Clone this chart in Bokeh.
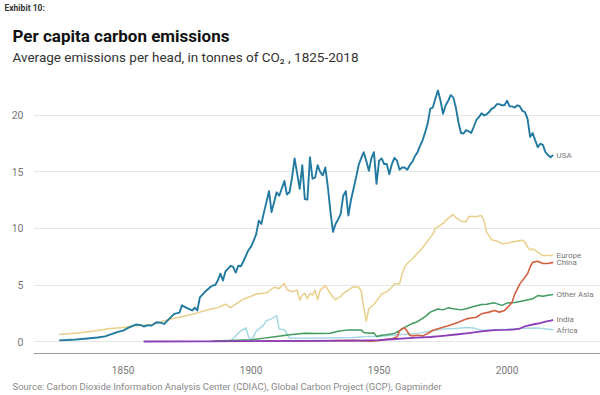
from bokeh.plotting import figure
from bokeh.layouts import column
from bokeh.models import Range1d, FixedTicker, ColumnDataSource, Title
from bokeh.embed import file_html
from bokeh.resources import INLINE
from bokeh.core.properties import value

FONT = "Roboto"

# ---------------- data (tonnes CO2 per head) ----------------
usa_year = [1825, 1830, 1835, 1840, 1843, 1846, 1848, 1850, 1852, 1854, 1855, 1857, 1858, 1860, 1861,
            1863, 1865, 1866, 1868, 1870, 1872, 1873, 1875, 1877, 1878, 1879, 1880, 1882, 1883, 1884,
            1885, 1886, 1887, 1888, 1889, 1890, 1892, 1893, 1894, 1895, 1896, 1897, 1899, 1900, 1901,
            1902, 1903, 1904, 1905, 1907, 1908, 1910, 1911, 1913, 1914, 1915, 1916, 1917, 1919, 1920,
            1921, 1922, 1923, 1924, 1925, 1926, 1927, 1928, 1929, 1930, 1931, 1932, 1933, 1934, 1935,
            1936, 1937, 1938, 1939, 1940, 1941, 1942, 1943, 1944, 1945, 1946, 1947, 1948, 1949, 1950,
            1951, 1952, 1953, 1954, 1955, 1956, 1957, 1958, 1959, 1960, 1961, 1962, 1963, 1964, 1965,
            1966, 1967, 1968, 1969, 1970, 1971, 1972, 1973, 1974, 1975, 1976, 1977, 1978, 1979, 1980,
            1981, 1982, 1983, 1984, 1985, 1986, 1987, 1988, 1989, 1990, 1991, 1992, 1993, 1994, 1995,
            1996, 1997, 1998, 1999, 2000, 2001, 2002, 2003, 2004, 2005, 2006, 2007, 2008, 2009, 2010,
            2011, 2012, 2013, 2014, 2015, 2016, 2017, 2018]
usa_val = [0.10, 0.15, 0.25, 0.35, 0.45, 0.70, 0.85, 0.97, 1.20, 1.40, 1.50, 1.45, 1.33, 1.45, 1.40,
           1.70, 1.65, 1.55, 2.00, 2.45, 2.55, 3.20, 2.95, 2.75, 3.00, 2.75, 3.90, 4.40, 4.60, 4.80,
           4.95, 5.00, 5.40, 6.00, 5.40, 6.20, 6.70, 6.60, 6.10, 6.70, 6.65, 7.10, 8.10, 8.40, 8.90,
           9.50, 10.70, 10.40, 11.40, 13.30, 11.45, 13.20, 12.90, 14.20, 13.00, 13.20, 14.50, 16.20, 13.50, 15.60,
           12.60, 12.55, 16.30, 14.40, 14.50, 15.60, 15.00, 14.70, 15.40, 13.65, 11.50, 9.70, 10.40, 10.80, 11.30,
           12.90, 13.30, 11.15, 12.50, 13.50, 14.50, 15.60, 16.20, 16.75, 16.00, 15.10, 16.20, 16.75, 13.95, 16.00,
           16.20, 15.70, 15.70, 14.80, 15.70, 16.25, 16.00, 15.20, 15.40, 15.40, 15.20, 15.60, 15.90, 16.40, 16.75,
           17.30, 17.80, 18.50, 19.30, 20.60, 20.70, 21.50, 22.20, 21.30, 20.15, 20.90, 21.30, 21.80, 21.60, 20.70,
           19.40, 18.45, 18.40, 18.70, 18.60, 18.45, 19.00, 19.60, 19.85, 20.20, 20.00, 20.10, 20.30, 20.60, 20.70,
           21.00, 21.00, 20.90, 20.90, 21.30, 20.80, 20.80, 20.70, 20.90, 20.80, 20.40, 20.30, 19.70, 18.10, 18.45,
           17.80, 17.20, 17.50, 17.40, 16.75, 16.50, 16.30, 16.50]

europe_year = [1825, 1830, 1835, 1840, 1845, 1850, 1854, 1858, 1862, 1866, 1870, 1872, 1875, 1878, 1880,
               1884, 1887, 1890, 1892, 1894, 1897, 1900, 1902, 1906, 1909, 1911, 1913, 1914, 1916, 1918,
               1919, 1920, 1921, 1922, 1923, 1924, 1925, 1926, 1927, 1929, 1931, 1932, 1933, 1935, 1936,
               1938, 1940, 1942, 1943, 1944, 1945, 1946, 1948, 1949, 1951, 1953, 1955, 1956, 1957, 1958,
               1959, 1960, 1961, 1963, 1965, 1967, 1969, 1971, 1972, 1974, 1975, 1976, 1977, 1979, 1980,
               1982, 1984, 1985, 1987, 1988, 1990, 1991, 1992, 1994, 1996, 1998, 2000, 2002, 2004, 2006,
               2007, 2008, 2009, 2010, 2012, 2014, 2016, 2018]
europe_val = [0.62, 0.72, 0.83, 0.98, 1.15, 1.25, 1.40, 1.45, 1.50, 1.85, 2.05, 2.15, 2.30, 2.45, 2.60,
              2.85, 3.00, 3.30, 3.00, 3.30, 3.75, 4.00, 4.20, 4.30, 4.80, 4.70, 5.15, 4.60, 4.40, 4.55,
              3.65, 4.10, 4.25, 3.80, 4.25, 4.10, 4.55, 3.70, 4.55, 4.95, 4.25, 3.90, 3.70, 4.00, 4.25,
              4.55, 4.85, 4.80, 4.50, 3.00, 1.80, 2.90, 3.30, 3.60, 4.20, 4.40, 4.80, 5.10, 5.10, 5.10,
              6.00, 6.60, 6.90, 7.30, 7.80, 8.30, 8.90, 9.50, 10.00, 10.30, 10.45, 10.70, 10.90, 11.25, 10.95,
              10.65, 10.60, 11.05, 11.05, 11.05, 11.15, 10.70, 9.70, 9.00, 8.90, 8.65, 8.70, 8.80, 8.90, 8.95,
              8.80, 8.35, 8.10, 8.20, 7.90, 7.60, 7.60, 7.60]

china_year = [1902, 1920, 1930, 1940, 1944, 1947, 1950, 1953, 1955, 1957, 1958, 1959, 1960, 1961, 1962,
              1963, 1965, 1967, 1969, 1971, 1974, 1977, 1979, 1981, 1984, 1988, 1990, 1993, 1995, 1997,
              1999, 2001, 2002, 2003, 2005, 2008, 2009, 2010, 2012, 2014, 2016, 2018]
china_val = [0.02, 0.05, 0.07, 0.10, 0.05, 0.03, 0.10, 0.20, 0.25, 0.40, 0.95, 1.15, 1.20, 0.90, 0.55,
             0.50, 0.55, 0.50, 0.70, 1.00, 1.20, 1.40, 1.55, 1.70, 2.00, 2.15, 2.45, 2.60, 2.75, 2.60,
             2.75, 3.20, 3.50, 4.20, 5.10, 6.00, 6.60, 7.00, 7.10, 6.90, 6.90, 7.00]

other_asia_year = [1885, 1892, 1900, 1905, 1910, 1915, 1919, 1921, 1926, 1931, 1934, 1938, 1943, 1944, 1946,
                   1948, 1949, 1951, 1953, 1956, 1958, 1960, 1963, 1965, 1968, 1970, 1973, 1975, 1977, 1979,
                   1982, 1984, 1987, 1990, 1992, 1995, 1998, 2000, 2003, 2007, 2010, 2012, 2014, 2016, 2018]
other_asia_val = [0.05, 0.08, 0.15, 0.30, 0.45, 0.60, 0.68, 0.73, 0.72, 0.74, 0.90, 1.03, 1.03, 0.80, 0.73,
                  0.76, 0.45, 0.55, 0.60, 0.72, 0.95, 1.25, 1.60, 1.75, 2.20, 2.60, 2.88, 2.80, 2.98, 2.90,
                  2.80, 2.90, 3.10, 3.27, 3.30, 3.42, 3.20, 3.40, 3.45, 3.63, 3.78, 4.07, 4.00, 4.10, 4.15]

india_year = [1858, 1880, 1900, 1920, 1940, 1950, 1955, 1960, 1965, 1970, 1975, 1980, 1985, 1990, 1995,
              2000, 2003, 2005, 2007, 2009, 2011, 2013, 2015, 2017, 2018]
india_val = [0.00, 0.01, 0.03, 0.06, 0.08, 0.12, 0.20, 0.28, 0.34, 0.40, 0.50, 0.62, 0.75, 0.90, 1.00,
             1.03, 1.08, 1.15, 1.35, 1.45, 1.55, 1.62, 1.75, 1.85, 1.92]

africa_year = [1884, 1890, 1892, 1896, 1898, 1899, 1900, 1902, 1904, 1905, 1906, 1908, 1910, 1911, 1913,
               1915, 1920, 1930, 1940, 1945, 1950, 1955, 1960, 1965, 1970, 1975, 1980, 1984, 1987, 1989,
               1993, 2000, 2006, 2012, 2018]
africa_val = [0.00, 0.02, 0.05, 0.95, 1.20, 0.40, 0.10, 0.90, 1.30, 1.50, 1.85, 2.00, 2.30, 1.10, 1.05,
              0.30, 0.30, 0.32, 0.35, 0.45, 0.45, 0.55, 0.65, 0.72, 0.90, 1.10, 1.15, 1.25, 1.20, 1.05,
              1.03, 1.08, 1.18, 1.20, 1.05]

x_ticks = [1850, 1900, 1950, 2000]
y_ticks = [0, 5, 10, 15, 20]

end_labels = ["USA", "Europe", "China", "Other Asia", "India", "Africa"]
end_label_y = [16.5, 7.65, 7.0, 4.15, 1.95, 1.0]

header_texts = ["Exhibit 10:", "Per capita carbon emissions",
                "Average emissions per head, in tonnes of  CO\u2082 , 1825-2018"]
source_text = ("Source: Carbon Dioxide  Information Analysis Center (CDIAC), "
               "Global Carbon Project (GCP), Gapminder")

# ---------------- header (pixel-space text panel) ----------------
hdr = figure(width=600, height=85, output_backend="svg", toolbar_location=None, title=None,
             x_range=Range1d(0, 600), y_range=Range1d(85, 0),
             x_axis_type=None, y_axis_type=None, min_border=0)
hdr.frame_align = False
hdr.outline_line_color = None
hdr.background_fill_color = "white"
hdr.border_fill_color = "white"

hdr.text(x=[4], y=[7], text=[header_texts[0]], text_font=value(FONT), text_font_size="8.5px",
         text_font_style="bold", text_color="#333333", text_baseline="alphabetic", text_align="left")
hdr.text(x=[12], y=[35], text=[header_texts[1]], text_font=value(FONT), text_font_size="17px",
         text_font_style="bold", text_color="#111111", text_baseline="alphabetic", text_align="left")
hdr.text(x=[12], y=[56], text=[header_texts[2]], text_font=value(FONT), text_font_size="13.5px",
         text_color="#333333", text_baseline="alphabetic", text_align="left")

# ---------------- chart ----------------
p = figure(width=600, height=310, output_backend="svg", toolbar_location=None, title=None,
           x_range=Range1d(1815.0, 2036.5), y_range=Range1d(-1.06, 22.65),
           min_border_left=33, min_border_right=0, min_border_top=0, min_border_bottom=42)
p.frame_align = False
p.outline_line_color = None
p.background_fill_color = "white"
p.border_fill_color = "white"

p.xgrid.visible = False
p.ygrid.grid_line_color = "#e6e6e6"
p.ygrid.grid_line_width = 1
p.ygrid.ticker = FixedTicker(ticks=y_ticks)

p.xaxis.ticker = FixedTicker(ticks=x_ticks)
p.xaxis.axis_line_color = "#9a9a9a"
p.xaxis.axis_line_width = 1.2
p.xaxis.major_tick_line_color = None
p.xaxis.minor_tick_line_color = None
p.xaxis.major_tick_out = 0
p.xaxis.major_tick_in = 0
p.xaxis.major_label_standoff = 12
p.xaxis.major_label_text_font = FONT
p.xaxis.major_label_text_font_size = "10px"
p.xaxis.major_label_text_color = "#777777"

p.yaxis.ticker = FixedTicker(ticks=y_ticks)
p.yaxis.axis_line_color = None
p.yaxis.major_tick_line_color = None
p.yaxis.minor_tick_line_color = None
p.yaxis.major_tick_out = 0
p.yaxis.major_tick_in = 0
p.yaxis.major_label_standoff = 10
p.yaxis.major_label_text_font = FONT
p.yaxis.major_label_text_font_size = "10.5px"
p.yaxis.major_label_text_color = "#777777"

series = [
    (europe_year, europe_val, "#e9cf8a", 1.5),
    (africa_year, africa_val, "#a6d9e3", 1.5),
    (other_asia_year, other_asia_val, "#3f9b5e", 1.5),
    (china_year, china_val, "#d3603f", 1.6),
    (india_year, india_val, "#8c3db8", 1.8),
    (usa_year, usa_val, "#227aa1", 1.9),
]
for xs, ys, col, w in series:
    p.line(xs, ys, line_color=col, line_width=w, line_join="round")

lab_src = ColumnDataSource(dict(x=[2019.3] * len(end_labels), y=end_label_y, t=end_labels))
p.text(x="x", y="y", text="t", source=lab_src, text_font=value(FONT), text_font_size="8px",
       text_color="#777777", text_baseline="middle", text_align="left")

p.add_layout(Title(text=source_text, align="left", offset=-21, standoff=4, text_font=FONT,
                   text_font_size="9.5px", text_font_style="normal", text_color="#888888"), "below")

layout = column(hdr, p, spacing=0)
open("out.html", "w").write(file_html(layout, INLINE))
